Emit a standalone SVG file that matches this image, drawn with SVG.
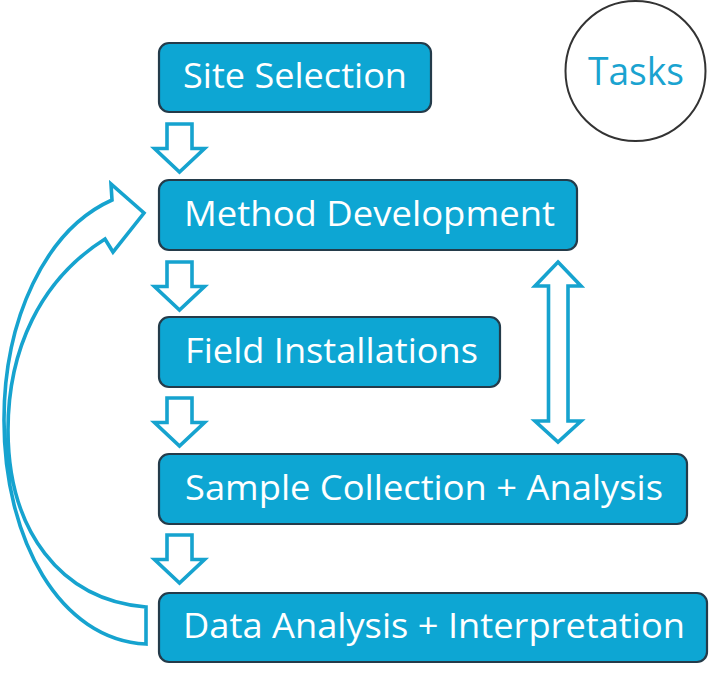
<svg xmlns="http://www.w3.org/2000/svg" width="711" height="678" viewBox="0 0 711 678">
<style>
.box{fill:#0DA6D3;stroke:#243B4A;stroke-width:2.2}
.lbl{font-family:"Open Sans","Noto Sans","DejaVu Sans",sans-serif;font-size:34px;fill:#ffffff}
.arr{fill:#ffffff;stroke:#16A3CF;stroke-width:3.6;stroke-linejoin:miter}
</style>
<defs>
<path id="down" d="M167,124 H192 V148.5 H204.5 L179.5,172 L154.5,148.5 H167 Z"/>
</defs>
<rect width="711" height="678" fill="#ffffff"/>
<g id="connectors">
<use href="#down" class="arr"/>
<use href="#down" class="arr" transform="translate(0,138)"/>
<use href="#down" class="arr" transform="translate(0,274)"/>
<use href="#down" class="arr" transform="translate(0,411)"/>
<path class="arr" d="M558,262 L581,286 H568 V421 H581 L558,442 L535,421 H548.5 V286 H535 Z"/>
<path class="arr" d="M146,607 C60,600 8,530 8,430 C8,350 40,280 105,239 L113,252 L144,213 L111,184 L112,200 C45,230 4,320 4,420 C4,540 60,640 146,644 Z"/>
</g>
<g id="site-selection">
<rect class="box" x="159" y="43" width="272" height="69" rx="10"/>
<text class="lbl" x="183" y="88" textLength="224" lengthAdjust="spacingAndGlyphs">Site Selection</text>
</g>
<g id="method-development">
<rect class="box" x="159" y="180" width="418" height="70" rx="10"/>
<text class="lbl" x="184" y="226" textLength="371" lengthAdjust="spacingAndGlyphs">Method Development</text>
</g>
<g id="field-installations">
<rect class="box" x="159" y="317" width="341" height="70" rx="10"/>
<text class="lbl" x="185" y="363" textLength="293" lengthAdjust="spacingAndGlyphs">Field Installations</text>
</g>
<g id="sample-collection">
<rect class="box" x="159" y="454" width="528" height="70" rx="10"/>
<text class="lbl" x="185" y="500" textLength="478" lengthAdjust="spacingAndGlyphs">Sample Collection + Analysis</text>
</g>
<g id="data-analysis">
<rect class="box" x="159" y="593" width="548" height="69" rx="10"/>
<text class="lbl" x="183" y="638" textLength="502" lengthAdjust="spacingAndGlyphs">Data Analysis + Interpretation</text>
</g>
<g id="tasks">
<circle cx="635.5" cy="71" r="70" fill="#ffffff" stroke="#333333" stroke-width="2"/>
<text x="588" y="85" textLength="96" lengthAdjust="spacingAndGlyphs" style="font-family:'Open Sans','Noto Sans','DejaVu Sans',sans-serif;font-size:38px;fill:#1AA3D0">Tasks</text>
</g>
</svg>
